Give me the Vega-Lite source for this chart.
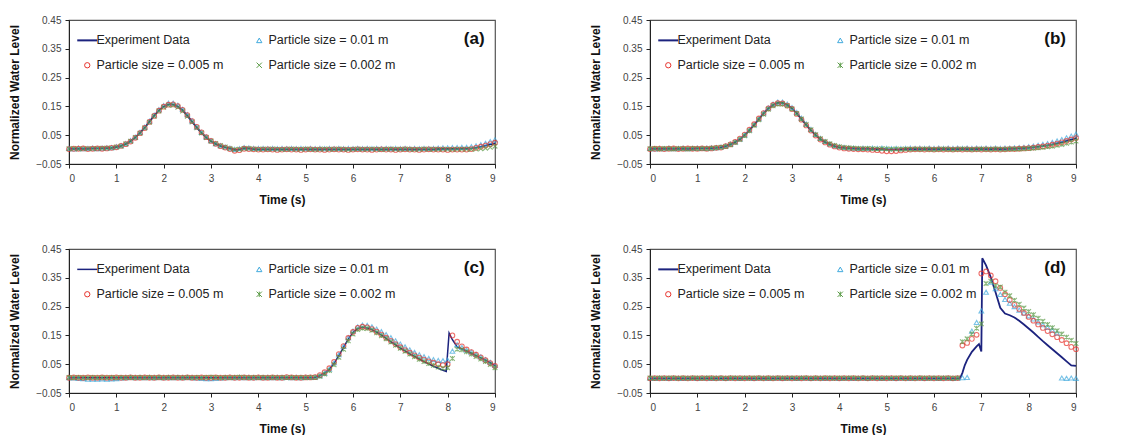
{
"$schema": "https://vega.github.io/schema/vega-lite/v6.json",
"padding": {"left": 8, "top": 14, "right": 5, "bottom": 0},
"datasets": {
"a": [
{"t":0.0,"E":0.003,"A":0.004,"B":0.002,"C":0.003},{"t":0.1,"E":0.003,"A":0.002,"B":0.003,"C":0.004},{"t":0.2,"E":0.003,"A":0.005,"B":0.003,"C":0.002},{"t":0.3,"E":0.003,"A":0.003,"B":0.004,"C":0.003},{"t":0.4,"E":0.003,"A":0.004,"B":0.002,"C":0.004},{"t":0.5,"E":0.004,"A":0.005,"B":0.003,"C":0.003},{"t":0.6,"E":0.004,"A":0.003,"B":0.004,"C":0.004},{"t":0.7,"E":0.004,"A":0.005,"B":0.003,"C":0.005},{"t":0.8,"E":0.005,"A":0.006,"B":0.004,"C":0.005},{"t":0.9,"E":0.006,"A":0.007,"B":0.006,"C":0.006},
{"t":1.0,"E":0.009,"A":0.010,"B":0.008,"C":0.009},{"t":1.1,"E":0.013,"A":0.014,"B":0.013,"C":0.012},{"t":1.2,"E":0.020,"A":0.021,"B":0.019,"C":0.020},{"t":1.3,"E":0.029,"A":0.031,"B":0.028,"C":0.029},{"t":1.4,"E":0.042,"A":0.043,"B":0.041,"C":0.042},{"t":1.5,"E":0.058,"A":0.060,"B":0.057,"C":0.057},{"t":1.6,"E":0.076,"A":0.078,"B":0.075,"C":0.075},{"t":1.7,"E":0.097,"A":0.099,"B":0.096,"C":0.095},{"t":1.8,"E":0.118,"A":0.120,"B":0.117,"C":0.116},{"t":1.9,"E":0.136,"A":0.139,"B":0.135,"C":0.134},
{"t":2.0,"E":0.150,"A":0.153,"B":0.149,"C":0.147},{"t":2.1,"E":0.157,"A":0.161,"B":0.156,"C":0.154},{"t":2.2,"E":0.157,"A":0.161,"B":0.157,"C":0.154},{"t":2.3,"E":0.150,"A":0.154,"B":0.151,"C":0.147},{"t":2.4,"E":0.136,"A":0.140,"B":0.138,"C":0.134},{"t":2.5,"E":0.118,"A":0.121,"B":0.120,"C":0.116},{"t":2.6,"E":0.097,"A":0.100,"B":0.099,"C":0.096},{"t":2.7,"E":0.076,"A":0.079,"B":0.079,"C":0.076},{"t":2.8,"E":0.058,"A":0.060,"B":0.060,"C":0.058},{"t":2.9,"E":0.042,"A":0.044,"B":0.043,"C":0.042},
{"t":3.0,"E":0.029,"A":0.031,"B":0.030,"C":0.030},{"t":3.1,"E":0.020,"A":0.021,"B":0.020,"C":0.021},{"t":3.2,"E":0.013,"A":0.014,"B":0.012,"C":0.014},{"t":3.3,"E":0.008,"A":0.009,"B":0.007,"C":0.009},{"t":3.4,"E":0.004,"A":0.005,"B":0.002,"C":0.004},{"t":3.5,"E":-0.001,"A":0.001,"B":-0.004,"C":0.000},{"t":3.6,"E":0.000,"A":0.003,"B":-0.002,"C":0.001},{"t":3.7,"E":0.005,"A":0.007,"B":0.003,"C":0.004},{"t":3.8,"E":0.004,"A":0.006,"B":0.002,"C":0.004},{"t":3.9,"E":0.002,"A":0.004,"B":0.001,"C":0.002},
{"t":4.0,"E":0.001,"A":0.004,"B":0.000,"C":0.001},{"t":4.1,"E":0.001,"A":0.004,"B":0.000,"C":0.002},{"t":4.2,"E":0.001,"A":0.003,"B":0.001,"C":0.001},{"t":4.3,"E":0.001,"A":0.004,"B":0.000,"C":0.002},{"t":4.4,"E":0.001,"A":0.003,"B":-0.001,"C":0.001},{"t":4.5,"E":0.001,"A":0.004,"B":0.000,"C":0.000},{"t":4.6,"E":0.001,"A":0.003,"B":0.001,"C":0.001},{"t":4.7,"E":0.001,"A":0.004,"B":0.000,"C":0.002},{"t":4.8,"E":0.001,"A":0.003,"B":0.000,"C":0.001},{"t":4.9,"E":0.001,"A":0.004,"B":-0.001,"C":0.001},
{"t":5.0,"E":0.001,"A":0.003,"B":0.000,"C":0.002},{"t":5.1,"E":0.001,"A":0.004,"B":0.001,"C":0.001},{"t":5.2,"E":0.001,"A":0.003,"B":0.000,"C":0.000},{"t":5.3,"E":0.001,"A":0.004,"B":0.000,"C":0.001},{"t":5.4,"E":0.001,"A":0.003,"B":-0.001,"C":0.002},{"t":5.5,"E":0.001,"A":0.004,"B":0.000,"C":0.001},{"t":5.6,"E":0.001,"A":0.003,"B":0.001,"C":0.001},{"t":5.7,"E":0.001,"A":0.004,"B":0.000,"C":0.002},{"t":5.8,"E":0.001,"A":0.003,"B":0.000,"C":0.001},{"t":5.9,"E":0.001,"A":0.004,"B":-0.001,"C":0.000},
{"t":6.0,"E":0.001,"A":0.003,"B":0.000,"C":0.001},{"t":6.1,"E":0.001,"A":0.004,"B":0.001,"C":0.002},{"t":6.2,"E":0.001,"A":0.003,"B":0.000,"C":0.001},{"t":6.3,"E":0.001,"A":0.004,"B":0.000,"C":0.001},{"t":6.4,"E":0.001,"A":0.003,"B":-0.001,"C":0.002},{"t":6.5,"E":0.001,"A":0.004,"B":0.000,"C":0.001},{"t":6.6,"E":0.001,"A":0.003,"B":0.001,"C":0.000},{"t":6.7,"E":0.001,"A":0.004,"B":0.000,"C":0.001},{"t":6.8,"E":0.001,"A":0.003,"B":0.000,"C":0.002},{"t":6.9,"E":0.001,"A":0.004,"B":-0.001,"C":0.001},
{"t":7.0,"E":0.001,"A":0.003,"B":0.000,"C":0.001},{"t":7.1,"E":0.001,"A":0.004,"B":0.001,"C":0.002},{"t":7.2,"E":0.001,"A":0.003,"B":0.000,"C":0.001},{"t":7.3,"E":0.001,"A":0.004,"B":0.000,"C":0.000},{"t":7.4,"E":0.001,"A":0.003,"B":-0.001,"C":0.001},{"t":7.5,"E":0.001,"A":0.004,"B":0.000,"C":0.002},{"t":7.6,"E":0.001,"A":0.003,"B":0.001,"C":0.001},{"t":7.7,"E":0.001,"A":0.004,"B":0.000,"C":0.001},{"t":7.8,"E":0.002,"A":0.005,"B":0.000,"C":0.001},{"t":7.9,"E":0.002,"A":0.006,"B":0.000,"C":0.001},
{"t":8.0,"E":0.002,"A":0.006,"B":-0.001,"C":0.001},{"t":8.1,"E":0.002,"A":0.007,"B":0.000,"C":0.000},{"t":8.2,"E":0.002,"A":0.007,"B":0.000,"C":0.001},{"t":8.3,"E":0.003,"A":0.008,"B":0.000,"C":0.001},{"t":8.4,"E":0.003,"A":0.008,"B":0.000,"C":0.001},{"t":8.5,"E":0.004,"A":0.010,"B":0.002,"C":0.001},{"t":8.6,"E":0.007,"A":0.013,"B":0.006,"C":0.002},{"t":8.7,"E":0.010,"A":0.017,"B":0.010,"C":0.003},{"t":8.8,"E":0.014,"A":0.022,"B":0.014,"C":0.005},{"t":8.9,"E":0.018,"A":0.028,"B":0.019,"C":0.008},{"t":9.0,"E":0.022,"A":0.034,"B":0.024,"C":0.012}
],
"b": [
{"t":0.0,"E":0.003,"A":0.004,"B":0.002,"C":0.003},{"t":0.1,"E":0.003,"A":0.002,"B":0.003,"C":0.004},{"t":0.2,"E":0.003,"A":0.004,"B":0.003,"C":0.002},{"t":0.3,"E":0.003,"A":0.003,"B":0.002,"C":0.004},{"t":0.4,"E":0.003,"A":0.005,"B":0.003,"C":0.003},{"t":0.5,"E":0.003,"A":0.003,"B":0.004,"C":0.002},{"t":0.6,"E":0.003,"A":0.004,"B":0.002,"C":0.004},{"t":0.7,"E":0.003,"A":0.005,"B":0.003,"C":0.003},{"t":0.8,"E":0.003,"A":0.003,"B":0.004,"C":0.002},{"t":0.9,"E":0.003,"A":0.004,"B":0.003,"C":0.004},
{"t":1.0,"E":0.004,"A":0.005,"B":0.003,"C":0.003},{"t":1.1,"E":0.004,"A":0.004,"B":0.004,"C":0.004},{"t":1.2,"E":0.004,"A":0.005,"B":0.003,"C":0.003},{"t":1.3,"E":0.005,"A":0.006,"B":0.004,"C":0.005},{"t":1.4,"E":0.006,"A":0.007,"B":0.006,"C":0.006},{"t":1.5,"E":0.008,"A":0.009,"B":0.007,"C":0.008},{"t":1.6,"E":0.012,"A":0.013,"B":0.012,"C":0.011},{"t":1.7,"E":0.018,"A":0.019,"B":0.018,"C":0.017},{"t":1.8,"E":0.026,"A":0.027,"B":0.027,"C":0.025},{"t":1.9,"E":0.036,"A":0.037,"B":0.038,"C":0.035},
{"t":2.0,"E":0.050,"A":0.051,"B":0.052,"C":0.048},{"t":2.1,"E":0.067,"A":0.068,"B":0.069,"C":0.065},{"t":2.2,"E":0.086,"A":0.087,"B":0.088,"C":0.084},{"t":2.3,"E":0.106,"A":0.107,"B":0.108,"C":0.104},{"t":2.4,"E":0.126,"A":0.127,"B":0.127,"C":0.123},{"t":2.5,"E":0.143,"A":0.145,"B":0.143,"C":0.140},{"t":2.6,"E":0.155,"A":0.158,"B":0.155,"C":0.152},{"t":2.7,"E":0.162,"A":0.165,"B":0.161,"C":0.158},{"t":2.8,"E":0.162,"A":0.165,"B":0.160,"C":0.158},{"t":2.9,"E":0.155,"A":0.158,"B":0.153,"C":0.152},
{"t":3.0,"E":0.143,"A":0.146,"B":0.141,"C":0.141},{"t":3.1,"E":0.126,"A":0.129,"B":0.124,"C":0.125},{"t":3.2,"E":0.106,"A":0.109,"B":0.104,"C":0.106},{"t":3.3,"E":0.086,"A":0.089,"B":0.084,"C":0.087},{"t":3.4,"E":0.067,"A":0.070,"B":0.066,"C":0.069},{"t":3.5,"E":0.050,"A":0.053,"B":0.049,"C":0.052},{"t":3.6,"E":0.036,"A":0.039,"B":0.035,"C":0.038},{"t":3.7,"E":0.026,"A":0.028,"B":0.025,"C":0.028},{"t":3.8,"E":0.018,"A":0.020,"B":0.017,"C":0.020},{"t":3.9,"E":0.012,"A":0.014,"B":0.011,"C":0.014},
{"t":4.0,"E":0.008,"A":0.010,"B":0.007,"C":0.010},{"t":4.1,"E":0.006,"A":0.008,"B":0.004,"C":0.007},{"t":4.2,"E":0.005,"A":0.006,"B":0.003,"C":0.006},{"t":4.3,"E":0.004,"A":0.005,"B":0.002,"C":0.005},{"t":4.4,"E":0.003,"A":0.004,"B":0.001,"C":0.004},{"t":4.5,"E":0.003,"A":0.005,"B":0.001,"C":0.003},{"t":4.6,"E":0.003,"A":0.004,"B":0.000,"C":0.004},{"t":4.7,"E":0.002,"A":0.005,"B":-0.001,"C":0.003},{"t":4.8,"E":0.002,"A":0.004,"B":-0.002,"C":0.002},{"t":4.9,"E":0.002,"A":0.005,"B":-0.004,"C":0.003},
{"t":5.0,"E":0.001,"A":0.004,"B":-0.006,"C":0.002},{"t":5.1,"E":0.001,"A":0.003,"B":-0.006,"C":0.001},{"t":5.2,"E":0.001,"A":0.004,"B":-0.005,"C":0.002},{"t":5.3,"E":0.001,"A":0.003,"B":-0.003,"C":0.001},{"t":5.4,"E":0.002,"A":0.004,"B":-0.001,"C":0.002},{"t":5.5,"E":0.002,"A":0.005,"B":0.000,"C":0.001},{"t":5.6,"E":0.002,"A":0.004,"B":0.001,"C":0.002},{"t":5.7,"E":0.002,"A":0.005,"B":0.001,"C":0.001},{"t":5.8,"E":0.002,"A":0.004,"B":0.000,"C":0.002},{"t":5.9,"E":0.002,"A":0.005,"B":0.001,"C":0.001},
{"t":6.0,"E":0.002,"A":0.004,"B":0.000,"C":0.000},{"t":6.1,"E":0.002,"A":0.005,"B":0.001,"C":0.001},{"t":6.2,"E":0.002,"A":0.004,"B":0.000,"C":0.002},{"t":6.3,"E":0.002,"A":0.005,"B":0.001,"C":0.001},{"t":6.4,"E":0.002,"A":0.004,"B":0.000,"C":0.000},{"t":6.5,"E":0.002,"A":0.005,"B":0.001,"C":0.001},{"t":6.6,"E":0.002,"A":0.004,"B":0.000,"C":0.002},{"t":6.7,"E":0.002,"A":0.005,"B":0.001,"C":0.001},{"t":6.8,"E":0.002,"A":0.004,"B":0.000,"C":0.000},{"t":6.9,"E":0.002,"A":0.005,"B":0.001,"C":0.001},
{"t":7.0,"E":0.002,"A":0.004,"B":0.000,"C":0.002},{"t":7.1,"E":0.002,"A":0.005,"B":0.001,"C":0.001},{"t":7.2,"E":0.002,"A":0.004,"B":0.000,"C":0.001},{"t":7.3,"E":0.002,"A":0.005,"B":0.001,"C":0.002},{"t":7.4,"E":0.002,"A":0.004,"B":0.000,"C":0.001},{"t":7.5,"E":0.002,"A":0.005,"B":0.001,"C":0.001},{"t":7.6,"E":0.003,"A":0.005,"B":0.002,"C":0.002},{"t":7.7,"E":0.003,"A":0.006,"B":0.002,"C":0.002},{"t":7.8,"E":0.004,"A":0.007,"B":0.003,"C":0.002},{"t":7.9,"E":0.005,"A":0.008,"B":0.004,"C":0.003},
{"t":8.0,"E":0.006,"A":0.010,"B":0.005,"C":0.004},{"t":8.1,"E":0.008,"A":0.012,"B":0.007,"C":0.005},{"t":8.2,"E":0.010,"A":0.015,"B":0.009,"C":0.006},{"t":8.3,"E":0.012,"A":0.018,"B":0.011,"C":0.008},{"t":8.4,"E":0.015,"A":0.021,"B":0.014,"C":0.010},{"t":8.5,"E":0.018,"A":0.025,"B":0.017,"C":0.012},{"t":8.6,"E":0.022,"A":0.030,"B":0.021,"C":0.015},{"t":8.7,"E":0.026,"A":0.035,"B":0.025,"C":0.018},{"t":8.8,"E":0.030,"A":0.041,"B":0.030,"C":0.022},{"t":8.9,"E":0.035,"A":0.047,"B":0.035,"C":0.026},{"t":9.0,"E":0.040,"A":0.054,"B":0.040,"C":0.030}
],
"c": [
{"t":0.0,"E":0.003,"A":0.003,"B":0.003,"C":0.004},{"t":0.1,"E":0.003,"A":0.002,"B":0.004,"C":0.003},{"t":0.2,"E":0.003,"A":0.001,"B":0.003,"C":0.004},{"t":0.3,"E":0.003,"A":0.000,"B":0.003,"C":0.003},{"t":0.4,"E":0.003,"A":-0.002,"B":0.004,"C":0.003},{"t":0.5,"E":0.003,"A":-0.002,"B":0.003,"C":0.004},{"t":0.6,"E":0.003,"A":-0.002,"B":0.003,"C":0.003},{"t":0.7,"E":0.003,"A":-0.001,"B":0.004,"C":0.004},{"t":0.8,"E":0.003,"A":-0.002,"B":0.003,"C":0.003},{"t":0.9,"E":0.003,"A":-0.001,"B":0.003,"C":0.004},
{"t":1.0,"E":0.003,"A":0.000,"B":0.004,"C":0.003},{"t":1.1,"E":0.003,"A":0.002,"B":0.003,"C":0.004},{"t":1.2,"E":0.003,"A":0.003,"B":0.003,"C":0.003},{"t":1.3,"E":0.003,"A":0.004,"B":0.004,"C":0.004},{"t":1.4,"E":0.003,"A":0.003,"B":0.003,"C":0.003},{"t":1.5,"E":0.003,"A":0.004,"B":0.003,"C":0.004},{"t":1.6,"E":0.003,"A":0.003,"B":0.004,"C":0.003},{"t":1.7,"E":0.003,"A":0.004,"B":0.003,"C":0.004},{"t":1.8,"E":0.003,"A":0.003,"B":0.003,"C":0.003},{"t":1.9,"E":0.003,"A":0.004,"B":0.004,"C":0.004},
{"t":2.0,"E":0.003,"A":0.003,"B":0.003,"C":0.003},{"t":2.1,"E":0.003,"A":0.004,"B":0.003,"C":0.004},{"t":2.2,"E":0.003,"A":0.003,"B":0.004,"C":0.003},{"t":2.3,"E":0.003,"A":0.004,"B":0.003,"C":0.004},{"t":2.4,"E":0.003,"A":0.003,"B":0.003,"C":0.003},{"t":2.5,"E":0.003,"A":0.004,"B":0.004,"C":0.004},{"t":2.6,"E":0.003,"A":0.003,"B":0.003,"C":0.003},{"t":2.7,"E":0.003,"A":0.002,"B":0.003,"C":0.004},{"t":2.8,"E":0.003,"A":0.001,"B":0.004,"C":0.003},{"t":2.9,"E":0.003,"A":0.000,"B":0.003,"C":0.004},
{"t":3.0,"E":0.003,"A":0.000,"B":0.003,"C":0.005},{"t":3.1,"E":0.003,"A":0.001,"B":0.004,"C":0.004},{"t":3.2,"E":0.003,"A":0.002,"B":0.003,"C":0.003},{"t":3.3,"E":0.003,"A":0.003,"B":0.003,"C":0.004},{"t":3.4,"E":0.003,"A":0.004,"B":0.004,"C":0.003},{"t":3.5,"E":0.003,"A":0.003,"B":0.003,"C":0.004},{"t":3.6,"E":0.003,"A":0.004,"B":0.003,"C":0.005},{"t":3.7,"E":0.003,"A":0.003,"B":0.004,"C":0.004},{"t":3.8,"E":0.003,"A":0.004,"B":0.003,"C":0.003},{"t":3.9,"E":0.003,"A":0.003,"B":0.003,"C":0.004},
{"t":4.0,"E":0.003,"A":0.004,"B":0.004,"C":0.003},{"t":4.1,"E":0.003,"A":0.003,"B":0.003,"C":0.004},{"t":4.2,"E":0.003,"A":0.004,"B":0.003,"C":0.003},{"t":4.3,"E":0.003,"A":0.003,"B":0.004,"C":0.004},{"t":4.4,"E":0.003,"A":0.004,"B":0.003,"C":0.003},{"t":4.5,"E":0.003,"A":0.003,"B":0.003,"C":0.004},{"t":4.6,"E":0.003,"A":0.004,"B":0.005,"C":0.003},{"t":4.7,"E":0.003,"A":0.003,"B":0.004,"C":0.004},{"t":4.8,"E":0.003,"A":0.004,"B":0.003,"C":0.003},{"t":4.9,"E":0.003,"A":0.003,"B":0.003,"C":0.004},
{"t":5.0,"E":0.003,"A":0.004,"B":0.004,"C":0.003},{"t":5.1,"E":0.003,"A":0.004,"B":0.004,"C":0.004},{"t":5.2,"E":0.004,"A":0.005,"B":0.005,"C":0.004},{"t":5.3,"E":0.010,"A":0.010,"B":0.012,"C":0.008},{"t":5.4,"E":0.019,"A":0.019,"B":0.022,"C":0.016},{"t":5.5,"E":0.032,"A":0.033,"B":0.036,"C":0.028},{"t":5.6,"E":0.053,"A":0.055,"B":0.058,"C":0.048},{"t":5.7,"E":0.080,"A":0.083,"B":0.085,"C":0.074},{"t":5.8,"E":0.108,"A":0.112,"B":0.113,"C":0.102},{"t":5.9,"E":0.137,"A":0.142,"B":0.141,"C":0.131},
{"t":6.0,"E":0.160,"A":0.165,"B":0.162,"C":0.155},{"t":6.1,"E":0.174,"A":0.180,"B":0.176,"C":0.170},{"t":6.2,"E":0.178,"A":0.186,"B":0.180,"C":0.175},{"t":6.3,"E":0.176,"A":0.185,"B":0.178,"C":0.174},{"t":6.4,"E":0.170,"A":0.180,"B":0.172,"C":0.168},{"t":6.5,"E":0.161,"A":0.172,"B":0.163,"C":0.159},{"t":6.6,"E":0.151,"A":0.163,"B":0.153,"C":0.149},{"t":6.7,"E":0.140,"A":0.153,"B":0.142,"C":0.138},{"t":6.8,"E":0.128,"A":0.142,"B":0.131,"C":0.127},{"t":6.9,"E":0.117,"A":0.131,"B":0.120,"C":0.116},
{"t":7.0,"E":0.106,"A":0.120,"B":0.109,"C":0.105},{"t":7.1,"E":0.096,"A":0.110,"B":0.099,"C":0.095},{"t":7.2,"E":0.086,"A":0.100,"B":0.090,"C":0.085},{"t":7.3,"E":0.077,"A":0.091,"B":0.081,"C":0.076},{"t":7.4,"E":0.068,"A":0.083,"B":0.073,"C":0.067},{"t":7.5,"E":0.059,"A":0.076,"B":0.066,"C":0.059},{"t":7.6,"E":0.051,"A":0.070,"B":0.060,"C":0.052},{"t":7.7,"E":0.043,"A":0.066,"B":0.055,"C":0.046},{"t":7.8,"E":0.036,"A":0.063,"B":0.050,"C":0.040},{"t":7.9,"E":0.029,"A":0.062,"B":0.047,"C":0.036},
{"t":7.97,"E":0.025},{"t":8.0,"A":0.064,"B":0.050,"C":0.038},{"t":8.03,"E":0.158},
{"t":8.1,"E":0.135,"A":0.095,"B":0.150,"C":0.070},{"t":8.2,"E":0.110,"A":0.118,"B":0.128,"C":0.102},{"t":8.3,"E":0.103,"A":0.108,"B":0.112,"C":0.100},{"t":8.4,"E":0.096,"A":0.099,"B":0.101,"C":0.093},{"t":8.5,"E":0.088,"A":0.092,"B":0.092,"C":0.085},{"t":8.6,"E":0.080,"A":0.084,"B":0.083,"C":0.077},{"t":8.7,"E":0.072,"A":0.075,"B":0.074,"C":0.068},{"t":8.8,"E":0.064,"A":0.066,"B":0.064,"C":0.059},{"t":8.9,"E":0.055,"A":0.056,"B":0.054,"C":0.049},{"t":9.0,"E":0.045,"A":0.046,"B":0.044,"C":0.038}
],
"d": [
{"t":0.0,"E":0.001,"A":0.002,"B":0.001,"C":0.002},{"t":0.1,"E":0.001,"A":0.001,"B":0.002,"C":0.001},{"t":0.2,"E":0.001,"A":0.002,"B":0.001,"C":0.002},{"t":0.3,"E":0.001,"A":0.002,"B":0.002,"C":0.001},{"t":0.4,"E":0.001,"A":0.001,"B":0.001,"C":0.002},{"t":0.5,"E":0.001,"A":0.002,"B":0.002,"C":0.002},{"t":0.6,"E":0.001,"A":0.002,"B":0.001,"C":0.001},{"t":0.7,"E":0.001,"A":0.001,"B":0.002,"C":0.002},{"t":0.8,"E":0.001,"A":0.002,"B":0.001,"C":0.001},{"t":0.9,"E":0.001,"A":0.002,"B":0.002,"C":0.002},
{"t":1.0,"E":0.001,"A":0.001,"B":0.001,"C":0.002},{"t":1.1,"E":0.001,"A":0.002,"B":0.002,"C":0.001},{"t":1.2,"E":0.001,"A":0.002,"B":0.001,"C":0.002},{"t":1.3,"E":0.001,"A":0.001,"B":0.002,"C":0.002},{"t":1.4,"E":0.001,"A":0.002,"B":0.001,"C":0.001},{"t":1.5,"E":0.001,"A":0.002,"B":0.002,"C":0.002},{"t":1.6,"E":0.001,"A":0.001,"B":0.001,"C":0.001},{"t":1.7,"E":0.001,"A":0.002,"B":0.002,"C":0.002},{"t":1.8,"E":0.001,"A":0.002,"B":0.001,"C":0.002},{"t":1.9,"E":0.001,"A":0.001,"B":0.002,"C":0.001},
{"t":2.0,"E":0.001,"A":0.002,"B":0.001,"C":0.002},{"t":2.1,"E":0.001,"A":0.002,"B":0.002,"C":0.001},{"t":2.2,"E":0.001,"A":0.001,"B":0.001,"C":0.002},{"t":2.3,"E":0.001,"A":0.002,"B":0.002,"C":0.002},{"t":2.4,"E":0.001,"A":0.002,"B":0.001,"C":0.001},{"t":2.5,"E":0.001,"A":0.001,"B":0.002,"C":0.002},{"t":2.6,"E":0.001,"A":0.002,"B":0.001,"C":0.001},{"t":2.7,"E":0.001,"A":0.002,"B":0.002,"C":0.002},{"t":2.8,"E":0.001,"A":0.001,"B":0.001,"C":0.002},{"t":2.9,"E":0.001,"A":0.002,"B":0.002,"C":0.001},
{"t":3.0,"E":0.001,"A":0.002,"B":0.001,"C":0.002},{"t":3.1,"E":0.001,"A":0.001,"B":0.002,"C":0.001},{"t":3.2,"E":0.001,"A":0.002,"B":0.001,"C":0.002},{"t":3.3,"E":0.001,"A":0.002,"B":0.002,"C":0.002},{"t":3.4,"E":0.001,"A":0.001,"B":0.001,"C":0.001},{"t":3.5,"E":0.001,"A":0.002,"B":0.002,"C":0.002},{"t":3.6,"E":0.001,"A":0.002,"B":0.001,"C":0.001},{"t":3.7,"E":0.001,"A":0.001,"B":0.002,"C":0.002},{"t":3.8,"E":0.001,"A":0.002,"B":0.001,"C":0.002},{"t":3.9,"E":0.001,"A":0.002,"B":0.002,"C":0.001},
{"t":4.0,"E":0.001,"A":0.001,"B":0.001,"C":0.002},{"t":4.1,"E":0.001,"A":0.002,"B":0.002,"C":0.001},{"t":4.2,"E":0.001,"A":0.002,"B":0.001,"C":0.002},{"t":4.3,"E":0.001,"A":0.001,"B":0.002,"C":0.002},{"t":4.4,"E":0.001,"A":0.002,"B":0.001,"C":0.001},{"t":4.5,"E":0.001,"A":0.002,"B":0.002,"C":0.002},{"t":4.6,"E":0.001,"A":0.001,"B":0.001,"C":0.001},{"t":4.7,"E":0.001,"A":0.002,"B":0.002,"C":0.002},{"t":4.8,"E":0.001,"A":0.002,"B":0.001,"C":0.002},{"t":4.9,"E":0.001,"A":0.001,"B":0.002,"C":0.001},
{"t":5.0,"E":0.001,"A":0.002,"B":0.001,"C":0.002},{"t":5.1,"E":0.001,"A":0.002,"B":0.002,"C":0.001},{"t":5.2,"E":0.001,"A":0.001,"B":0.001,"C":0.002},{"t":5.3,"E":0.001,"A":0.002,"B":0.002,"C":0.002},{"t":5.4,"E":0.001,"A":0.002,"B":0.001,"C":0.001},{"t":5.5,"E":0.001,"A":0.001,"B":0.002,"C":0.002},{"t":5.6,"E":0.001,"A":0.002,"B":0.001,"C":0.001},{"t":5.7,"E":0.001,"A":0.002,"B":0.002,"C":0.002},{"t":5.8,"E":0.001,"A":0.001,"B":0.001,"C":0.002},{"t":5.9,"E":0.001,"A":0.002,"B":0.002,"C":0.001},
{"t":6.0,"E":0.001,"A":0.002,"B":0.001,"C":0.002},{"t":6.1,"E":0.001,"A":0.001,"B":0.002,"C":0.001},{"t":6.2,"E":0.001,"A":0.002,"B":0.001,"C":0.002},{"t":6.3,"E":0.001,"A":0.002,"B":0.002,"C":0.002},{"t":6.4,"E":0.001,"A":0.001,"B":0.001,"C":0.001},{"t":6.5,"E":0.001,"A":0.002,"B":0.002,"C":0.002},
{"t":6.55,"E":0.001},{"t":6.6,"E":0.020,"A":0.003,"B":0.115,"C":0.128},{"t":6.65,"E":0.046},{"t":6.7,"E":0.065,"A":0.004,"B":0.124,"C":0.138},{"t":6.8,"E":0.093,"A":0.165,"B":0.138,"C":0.155},{"t":6.9,"E":0.112,"A":0.195,"B":0.152,"C":0.175},{"t":6.95,"E":0.120},
{"t":7.0,"E":0.094,"A":0.235,"B":0.365,"C":0.190},{"t":7.02,"E":0.418},{"t":7.1,"E":0.393,"A":0.300,"B":0.372,"C":0.330},{"t":7.2,"E":0.352,"A":0.335,"B":0.358,"C":0.338},{"t":7.3,"E":0.300,"A":0.312,"B":0.338,"C":0.322},{"t":7.4,"E":0.246,"A":0.292,"B":0.315,"C":0.318},{"t":7.5,"E":0.226,"A":0.275,"B":0.293,"C":0.300},{"t":7.6,"E":0.220,"A":0.262,"B":0.273,"C":0.288},{"t":7.7,"E":0.212,"A":0.250,"B":0.256,"C":0.272},{"t":7.8,"E":0.201,"A":0.238,"B":0.242,"C":0.258},{"t":7.9,"E":0.188,"A":0.228,"B":0.228,"C":0.245},
{"t":8.0,"E":0.174,"A":0.218,"B":0.214,"C":0.233},{"t":8.1,"E":0.160,"A":0.207,"B":0.201,"C":0.222},{"t":8.2,"E":0.145,"A":0.197,"B":0.188,"C":0.210},{"t":8.3,"E":0.130,"A":0.187,"B":0.176,"C":0.199},{"t":8.4,"E":0.116,"A":0.178,"B":0.165,"C":0.188},{"t":8.5,"E":0.102,"A":0.168,"B":0.154,"C":0.177},{"t":8.6,"E":0.088,"A":0.158,"B":0.144,"C":0.166},{"t":8.7,"E":0.074,"A":0.002,"B":0.134,"C":0.155},{"t":8.8,"E":0.060,"A":0.001,"B":0.123,"C":0.144},{"t":8.9,"E":0.046,"A":0.002,"B":0.110,"C":0.133},{"t":9.0,"E":0.044,"A":0.001,"B":0.102,"C":0.122}
]
},
"columns": 2,
"spacing": {"row": 37, "column": 88},
"concat": [
{"width": 426, "height": 144, "data": {"name": "a"},
 "layer": [
  {"transform": [{"fold": ["E"], "as": ["s", "y"]}, {"filter": "isValid(datum.y)"}],
   "mark": {"type": "line", "strokeWidth": 1.8},
   "encoding": {
    "x": {"field": "t", "type": "quantitative", "scale": {"domain": [0, 9], "nice": false}, "axis": {"values": [0,1,2,3,4,5,6,7,8,9], "tickCount": 10, "format": "d", "title": "Time (s)", "labelOverlap": false}},
    "y": {"field": "y", "type": "quantitative", "scale": {"domain": [-0.05, 0.45], "nice": false, "zero": false}, "axis": {"values": [-0.05,0.05,0.15,0.25,0.35,0.45], "tickCount": 6, "format": ".2f", "title": "Normalized Water Level", "labelOverlap": false, "labelFlush": false}},
    "color": {"field": "s", "type": "nominal", "scale": {"domain": ["E","B","A","C"], "range": ["#1c237e","#e8322c","#3fa9dd","#5a9a45"]},
     "legend": {"title": null, "orient": "none", "legendX": 12, "legendY": 14, "columns": 2, "columnPadding": 29, "rowPadding": 12, "symbolSize": 400, "labelFont": "Liberation Sans", "labelFontSize": 12.5, "labelColor": "#222", "labelOffset": 3, "labelExpr": "datum.label == 'E' ? 'Experiment Data' : datum.label == 'A' ? 'Particle size = 0.01 m' : datum.label == 'B' ? 'Particle size = 0.005 m' : 'Particle size = 0.002 m'", "encode": {"symbols": {"update": {"size": {"signal": "datum.value === 'E' ? 400 : 28"}, "strokeWidth": {"signal": "datum.value === 'E' ? 2 : 1"}}}}}}
   }},
  {"transform": [{"fold": ["A","B","C"], "as": ["s", "y"]}, {"filter": "isValid(datum.y)"}],
   "mark": {"type": "point", "filled": false, "size": 22, "strokeWidth": 1.1},
   "encoding": {
    "x": {"field": "t", "type": "quantitative"},
    "y": {"field": "y", "type": "quantitative"},
    "color": {"field": "s", "type": "nominal", "scale": {"domain": ["E","B","A","C"], "range": ["#1c237e","#e8322c","#3fa9dd","#5a9a45"]},
     "legend": {"title": null, "orient": "none", "legendX": 12, "legendY": 14, "columns": 2, "columnPadding": 29, "rowPadding": 12, "symbolSize": 400, "labelFont": "Liberation Sans", "labelFontSize": 12.5, "labelColor": "#222", "labelOffset": 3, "labelExpr": "datum.label == 'E' ? 'Experiment Data' : datum.label == 'A' ? 'Particle size = 0.01 m' : datum.label == 'B' ? 'Particle size = 0.005 m' : 'Particle size = 0.002 m'", "encode": {"symbols": {"update": {"size": {"signal": "datum.value === 'E' ? 400 : 28"}, "strokeWidth": {"signal": "datum.value === 'E' ? 2 : 1"}}}}}},
    "shape": {"field": "s", "type": "nominal", "scale": {"domain": ["E","B","A","C"], "range": ["stroke","circle","triangle-up","M-1,-1L1,1M-1,1L1,-1"]},
     "legend": {"title": null, "orient": "none", "legendX": 12, "legendY": 14, "columns": 2, "columnPadding": 29, "rowPadding": 12, "symbolSize": 400, "labelFont": "Liberation Sans", "labelFontSize": 12.5, "labelColor": "#222", "labelOffset": 3, "labelExpr": "datum.label == 'E' ? 'Experiment Data' : datum.label == 'A' ? 'Particle size = 0.01 m' : datum.label == 'B' ? 'Particle size = 0.005 m' : 'Particle size = 0.002 m'", "encode": {"symbols": {"update": {"size": {"signal": "datum.value === 'E' ? 400 : 28"}, "strokeWidth": {"signal": "datum.value === 'E' ? 2 : 1"}}}}}}
   }},
  {"data": {"values": [{"lab": "(a)"}]},
   "mark": {"type": "text", "font": "Liberation Sans", "fontSize": 17, "fontWeight": "bold", "color": "#111"},
   "encoding": {"x": {"datum": 8.56, "type": "quantitative"}, "y": {"datum": 0.385, "type": "quantitative"}, "text": {"field": "lab"}}}
 ]},
{"width": 426, "height": 144, "data": {"name": "b"},
 "layer": [
  {"transform": [{"fold": ["E"], "as": ["s", "y"]}, {"filter": "isValid(datum.y)"}],
   "mark": {"type": "line", "strokeWidth": 1.8},
   "encoding": {
    "x": {"field": "t", "type": "quantitative", "scale": {"domain": [0, 9], "nice": false}, "axis": {"values": [0,1,2,3,4,5,6,7,8,9], "tickCount": 10, "format": "d", "title": "Time (s)", "labelOverlap": false}},
    "y": {"field": "y", "type": "quantitative", "scale": {"domain": [-0.05, 0.45], "nice": false, "zero": false}, "axis": {"values": [-0.05,0.05,0.15,0.25,0.35,0.45], "tickCount": 6, "format": ".2f", "title": "Normalized Water Level", "labelOverlap": false, "labelFlush": false}},
    "color": {"field": "s", "type": "nominal", "scale": {"domain": ["E","B","A","C"], "range": ["#1c237e","#e8322c","#3fa9dd","#5a9a45"]},
     "legend": {"title": null, "orient": "none", "legendX": 12, "legendY": 14, "columns": 2, "columnPadding": 29, "rowPadding": 12, "symbolSize": 400, "labelFont": "Liberation Sans", "labelFontSize": 12.5, "labelColor": "#222", "labelOffset": 3, "labelExpr": "datum.label == 'E' ? 'Experiment Data' : datum.label == 'A' ? 'Particle size = 0.01 m' : datum.label == 'B' ? 'Particle size = 0.005 m' : 'Particle size = 0.002 m'", "encode": {"symbols": {"update": {"size": {"signal": "datum.value === 'E' ? 400 : 28"}, "strokeWidth": {"signal": "datum.value === 'E' ? 2 : 1"}}}}}}
   }},
  {"transform": [{"fold": ["A","B","C"], "as": ["s", "y"]}, {"filter": "isValid(datum.y)"}],
   "mark": {"type": "point", "filled": false, "size": 22, "strokeWidth": 1.1},
   "encoding": {
    "x": {"field": "t", "type": "quantitative"},
    "y": {"field": "y", "type": "quantitative"},
    "color": {"field": "s", "type": "nominal", "scale": {"domain": ["E","B","A","C"], "range": ["#1c237e","#e8322c","#3fa9dd","#5a9a45"]},
     "legend": {"title": null, "orient": "none", "legendX": 12, "legendY": 14, "columns": 2, "columnPadding": 29, "rowPadding": 12, "symbolSize": 400, "labelFont": "Liberation Sans", "labelFontSize": 12.5, "labelColor": "#222", "labelOffset": 3, "labelExpr": "datum.label == 'E' ? 'Experiment Data' : datum.label == 'A' ? 'Particle size = 0.01 m' : datum.label == 'B' ? 'Particle size = 0.005 m' : 'Particle size = 0.002 m'", "encode": {"symbols": {"update": {"size": {"signal": "datum.value === 'E' ? 400 : 28"}, "strokeWidth": {"signal": "datum.value === 'E' ? 2 : 1"}}}}}},
    "shape": {"field": "s", "type": "nominal", "scale": {"domain": ["E","B","A","C"], "range": ["stroke","circle","triangle-up","M-1,-1L1,1M-1,1L1,-1M0,-1L0,1"]},
     "legend": {"title": null, "orient": "none", "legendX": 12, "legendY": 14, "columns": 2, "columnPadding": 29, "rowPadding": 12, "symbolSize": 400, "labelFont": "Liberation Sans", "labelFontSize": 12.5, "labelColor": "#222", "labelOffset": 3, "labelExpr": "datum.label == 'E' ? 'Experiment Data' : datum.label == 'A' ? 'Particle size = 0.01 m' : datum.label == 'B' ? 'Particle size = 0.005 m' : 'Particle size = 0.002 m'", "encode": {"symbols": {"update": {"size": {"signal": "datum.value === 'E' ? 400 : 28"}, "strokeWidth": {"signal": "datum.value === 'E' ? 2 : 1"}}}}}}
   }},
  {"data": {"values": [{"lab": "(b)"}]},
   "mark": {"type": "text", "font": "Liberation Sans", "fontSize": 17, "fontWeight": "bold", "color": "#111"},
   "encoding": {"x": {"datum": 8.56, "type": "quantitative"}, "y": {"datum": 0.385, "type": "quantitative"}, "text": {"field": "lab"}}}
 ]},
{"width": 426, "height": 144, "data": {"name": "c"},
 "layer": [
  {"transform": [{"fold": ["E"], "as": ["s", "y"]}, {"filter": "isValid(datum.y)"}],
   "mark": {"type": "line", "strokeWidth": 1.5},
   "encoding": {
    "x": {"field": "t", "type": "quantitative", "scale": {"domain": [0, 9], "nice": false}, "axis": {"values": [0,1,2,3,4,5,6,7,8,9], "tickCount": 10, "format": "d", "title": "Time (s)", "labelOverlap": false}},
    "y": {"field": "y", "type": "quantitative", "scale": {"domain": [-0.05, 0.45], "nice": false, "zero": false}, "axis": {"values": [-0.05,0.05,0.15,0.25,0.35,0.45], "tickCount": 6, "format": ".2f", "title": "Normalized Water Level", "labelOverlap": false, "labelFlush": false}},
    "color": {"field": "s", "type": "nominal", "scale": {"domain": ["E","B","A","C"], "range": ["#1c237e","#e8322c","#3fa9dd","#5a9a45"]},
     "legend": {"title": null, "orient": "none", "legendX": 12, "legendY": 14, "columns": 2, "columnPadding": 29, "rowPadding": 12, "symbolSize": 400, "labelFont": "Liberation Sans", "labelFontSize": 12.5, "labelColor": "#222", "labelOffset": 3, "labelExpr": "datum.label == 'E' ? 'Experiment Data' : datum.label == 'A' ? 'Particle size = 0.01 m' : datum.label == 'B' ? 'Particle size = 0.005 m' : 'Particle size = 0.002 m'", "encode": {"symbols": {"update": {"size": {"signal": "datum.value === 'E' ? 400 : 28"}, "strokeWidth": {"signal": "datum.value === 'E' ? 1.5 : 1"}}}}}}
   }},
  {"transform": [{"fold": ["A","B","C"], "as": ["s", "y"]}, {"filter": "isValid(datum.y)"}],
   "mark": {"type": "point", "filled": false, "size": 22, "strokeWidth": 1.1},
   "encoding": {
    "x": {"field": "t", "type": "quantitative"},
    "y": {"field": "y", "type": "quantitative"},
    "color": {"field": "s", "type": "nominal", "scale": {"domain": ["E","B","A","C"], "range": ["#1c237e","#e8322c","#3fa9dd","#5a9a45"]},
     "legend": {"title": null, "orient": "none", "legendX": 12, "legendY": 14, "columns": 2, "columnPadding": 29, "rowPadding": 12, "symbolSize": 400, "labelFont": "Liberation Sans", "labelFontSize": 12.5, "labelColor": "#222", "labelOffset": 3, "labelExpr": "datum.label == 'E' ? 'Experiment Data' : datum.label == 'A' ? 'Particle size = 0.01 m' : datum.label == 'B' ? 'Particle size = 0.005 m' : 'Particle size = 0.002 m'", "encode": {"symbols": {"update": {"size": {"signal": "datum.value === 'E' ? 400 : 28"}, "strokeWidth": {"signal": "datum.value === 'E' ? 1.5 : 1"}}}}}},
    "shape": {"field": "s", "type": "nominal", "scale": {"domain": ["E","B","A","C"], "range": ["stroke","circle","triangle-up","M-1,-1L1,1M-1,1L1,-1M0,-1L0,1"]},
     "legend": {"title": null, "orient": "none", "legendX": 12, "legendY": 14, "columns": 2, "columnPadding": 29, "rowPadding": 12, "symbolSize": 400, "labelFont": "Liberation Sans", "labelFontSize": 12.5, "labelColor": "#222", "labelOffset": 3, "labelExpr": "datum.label == 'E' ? 'Experiment Data' : datum.label == 'A' ? 'Particle size = 0.01 m' : datum.label == 'B' ? 'Particle size = 0.005 m' : 'Particle size = 0.002 m'", "encode": {"symbols": {"update": {"size": {"signal": "datum.value === 'E' ? 400 : 28"}, "strokeWidth": {"signal": "datum.value === 'E' ? 1.5 : 1"}}}}}}
   }},
  {"data": {"values": [{"lab": "(c)"}]},
   "mark": {"type": "text", "font": "Liberation Sans", "fontSize": 17, "fontWeight": "bold", "color": "#111"},
   "encoding": {"x": {"datum": 8.56, "type": "quantitative"}, "y": {"datum": 0.385, "type": "quantitative"}, "text": {"field": "lab"}}}
 ]},
{"width": 426, "height": 144, "data": {"name": "d"},
 "layer": [
  {"transform": [{"fold": ["E"], "as": ["s", "y"]}, {"filter": "isValid(datum.y)"}],
   "mark": {"type": "line", "strokeWidth": 1.8},
   "encoding": {
    "x": {"field": "t", "type": "quantitative", "scale": {"domain": [0, 9], "nice": false}, "axis": {"values": [0,1,2,3,4,5,6,7,8,9], "tickCount": 10, "format": "d", "title": "Time (s)", "labelOverlap": false}},
    "y": {"field": "y", "type": "quantitative", "scale": {"domain": [-0.05, 0.45], "nice": false, "zero": false}, "axis": {"values": [-0.05,0.05,0.15,0.25,0.35,0.45], "tickCount": 6, "format": ".2f", "title": "Normalized Water Level", "labelOverlap": false, "labelFlush": false}},
    "color": {"field": "s", "type": "nominal", "scale": {"domain": ["E","B","A","C"], "range": ["#1c237e","#e8322c","#3fa9dd","#5a9a45"]},
     "legend": {"title": null, "orient": "none", "legendX": 12, "legendY": 14, "columns": 2, "columnPadding": 29, "rowPadding": 12, "symbolSize": 400, "labelFont": "Liberation Sans", "labelFontSize": 12.5, "labelColor": "#222", "labelOffset": 3, "labelExpr": "datum.label == 'E' ? 'Experiment Data' : datum.label == 'A' ? 'Particle size = 0.01 m' : datum.label == 'B' ? 'Particle size = 0.005 m' : 'Particle size = 0.002 m'", "encode": {"symbols": {"update": {"size": {"signal": "datum.value === 'E' ? 400 : 28"}, "strokeWidth": {"signal": "datum.value === 'E' ? 2 : 1"}}}}}}
   }},
  {"transform": [{"fold": ["A","B","C"], "as": ["s", "y"]}, {"filter": "isValid(datum.y)"}],
   "mark": {"type": "point", "filled": false, "size": 22, "strokeWidth": 1.1},
   "encoding": {
    "x": {"field": "t", "type": "quantitative"},
    "y": {"field": "y", "type": "quantitative"},
    "color": {"field": "s", "type": "nominal", "scale": {"domain": ["E","B","A","C"], "range": ["#1c237e","#e8322c","#3fa9dd","#5a9a45"]},
     "legend": {"title": null, "orient": "none", "legendX": 12, "legendY": 14, "columns": 2, "columnPadding": 29, "rowPadding": 12, "symbolSize": 400, "labelFont": "Liberation Sans", "labelFontSize": 12.5, "labelColor": "#222", "labelOffset": 3, "labelExpr": "datum.label == 'E' ? 'Experiment Data' : datum.label == 'A' ? 'Particle size = 0.01 m' : datum.label == 'B' ? 'Particle size = 0.005 m' : 'Particle size = 0.002 m'", "encode": {"symbols": {"update": {"size": {"signal": "datum.value === 'E' ? 400 : 28"}, "strokeWidth": {"signal": "datum.value === 'E' ? 2 : 1"}}}}}},
    "shape": {"field": "s", "type": "nominal", "scale": {"domain": ["E","B","A","C"], "range": ["stroke","circle","triangle-up","M-1,-1L1,1M-1,1L1,-1M0,-1L0,1"]},
     "legend": {"title": null, "orient": "none", "legendX": 12, "legendY": 14, "columns": 2, "columnPadding": 29, "rowPadding": 12, "symbolSize": 400, "labelFont": "Liberation Sans", "labelFontSize": 12.5, "labelColor": "#222", "labelOffset": 3, "labelExpr": "datum.label == 'E' ? 'Experiment Data' : datum.label == 'A' ? 'Particle size = 0.01 m' : datum.label == 'B' ? 'Particle size = 0.005 m' : 'Particle size = 0.002 m'", "encode": {"symbols": {"update": {"size": {"signal": "datum.value === 'E' ? 400 : 28"}, "strokeWidth": {"signal": "datum.value === 'E' ? 2 : 1"}}}}}}
   }},
  {"data": {"values": [{"lab": "(d)"}]},
   "mark": {"type": "text", "font": "Liberation Sans", "fontSize": 17, "fontWeight": "bold", "color": "#111"},
   "encoding": {"x": {"datum": 8.56, "type": "quantitative"}, "y": {"datum": 0.385, "type": "quantitative"}, "text": {"field": "lab"}}}
 ]}
],
"resolve": {"scale": {"x": "independent", "y": "independent", "color": "independent", "shape": "independent"}, "legend": {"color": "independent", "shape": "independent"}},
"config": {
 "view": {"stroke": "#555", "strokeWidth": 1.2},
 "axis": {"grid": false, "domainColor": "#222", "tickColor": "#222", "tickSize": 4, "labelOverlap": false, "labelFont": "Liberation Sans", "labelFontSize": 10, "labelColor": "#444", "titleFont": "Liberation Sans", "titleFontSize": 12, "titleFontWeight": "bold", "titleColor": "#111"},
 "axisX": {"labelPadding": 5, "titlePadding": 11},
 "axisY": {"labelPadding": 4, "titlePadding": 14}
}
}
